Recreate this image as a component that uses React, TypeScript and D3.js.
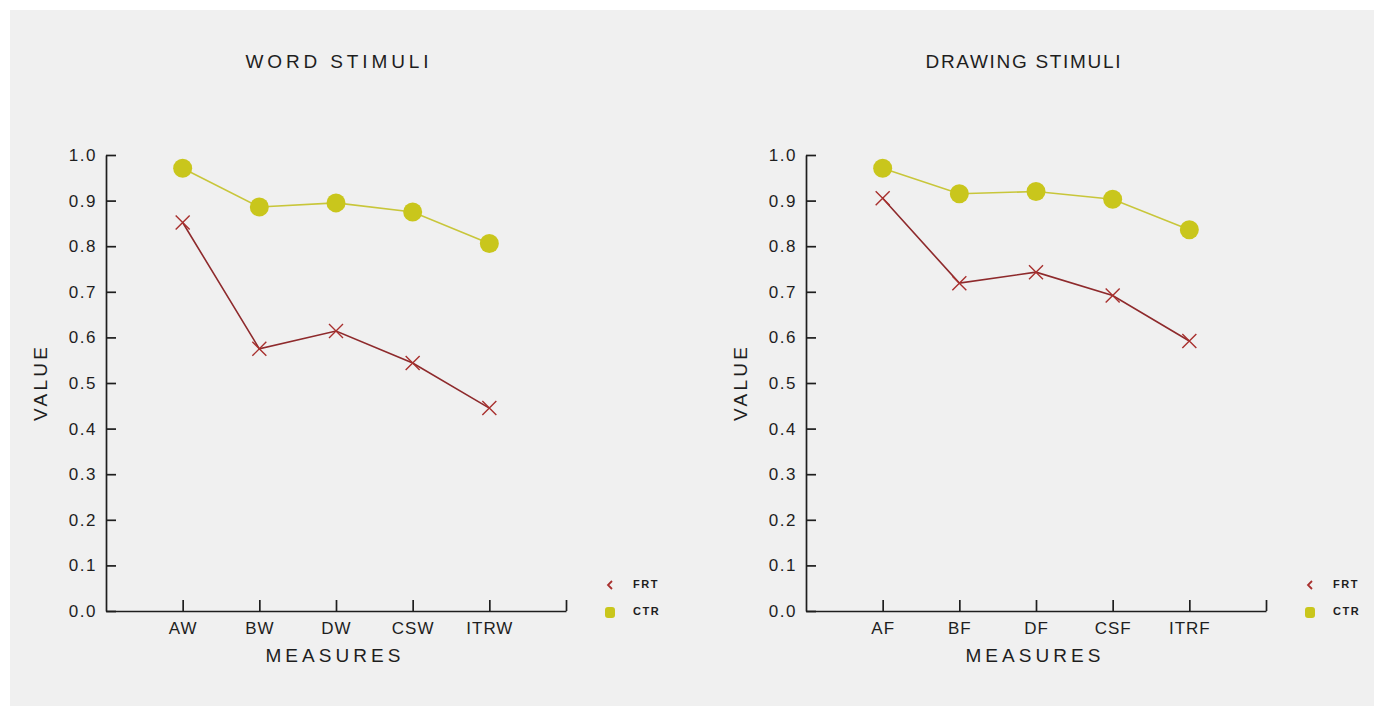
import React, { useEffect, useRef } from "react";
import * as d3 from "d3";

// values
const wordCats = ["AW", "BW", "DW", "CSW", "ITRW"];
const wordFRT = [0.852, 0.575, 0.614, 0.544, 0.445];
const wordCTR = [0.971, 0.886, 0.895, 0.875, 0.806];

const drawCats = ["AF", "BF", "DF", "CSF", "ITRF"];
const drawFRT = [0.905, 0.719, 0.743, 0.692, 0.592];
const drawCTR = [0.971, 0.915, 0.92, 0.903, 0.836];

const legendNames = ["FRT", "CTR"];

const FONT = "'Liberation Sans', Arial, sans-serif";
const INK = "#1e1e1e";
const FRT_COLOR = "#a8302e";
const FRT_LINE = "#8e2a2c";
const CTR_COLOR = "#c9c61c";
const CTR_LINE = "#c8c63a";

export default function App() {
  const svgRef = useRef<SVGSVGElement>(null);

  useEffect(() => {
    const svg = d3.select(svgRef.current);
    svg.selectAll("*").remove();

    svg.append("rect")
      .attr("x", 0).attr("y", 0).attr("width", 1381).attr("height", 706)
      .attr("fill", "#ffffff");
    svg.append("rect")
      .attr("x", 10).attr("y", 10).attr("width", 1364).attr("height", 696)
      .attr("fill", "#f0f0f0");

    const panel = (left: number, title: string, cats: string[], frt: number[], ctr: number[], titleX: number, titleLen: number) => {
      const x = d3.scaleLinear().domain([0, 6]).range([left, left + 460]);
      const y = d3.scaleLinear().domain([0, 1]).range([611, 155]);
      const g = svg.append("g");

      // title
      g.append("text")
        .attr("x", titleX).attr("y", 63)
        .attr("text-anchor", "middle").attr("dominant-baseline", "middle")
        .attr("textLength", titleLen).attr("lengthAdjust", "spacing")
        .style("font-family", FONT).style("font-size", "19px").attr("fill", INK)
        .text(title);

      // y axis
      const yAxis = g.append("g")
        .attr("transform", `translate(${left},0)`)
        .call(d3.axisLeft(y).ticks(10).tickFormat(d3.format(".1f")).tickSizeInner(-10).tickSizeOuter(0).tickPadding(9));
      yAxis.selectAll("path, line").attr("stroke", INK).attr("stroke-width", 1.7);
      yAxis.selectAll("text")
        .style("font-family", FONT).style("font-size", "17px").style("letter-spacing", "1.5px")
        .attr("fill", INK);

      // x axis
      const xAxis = g.append("g")
        .attr("transform", `translate(0,${y(0)})`)
        .call(d3.axisBottom(x).tickValues([1, 2, 3, 4, 5, 6])
          .tickFormat((d: any) => cats[+d - 1] || "")
          .tickSizeInner(-11).tickSizeOuter(0).tickPadding(11));
      xAxis.selectAll("path, line").attr("stroke", INK).attr("stroke-width", 1.7);
      xAxis.selectAll("text")
        .style("font-family", FONT).style("font-size", "17px").style("letter-spacing", "1px")
        .attr("fill", INK);

      // axis labels
      g.append("text")
        .attr("x", left + 227).attr("y", 657)
        .attr("text-anchor", "middle").attr("dominant-baseline", "middle")
        .attr("textLength", 135).attr("lengthAdjust", "spacing")
        .style("font-family", FONT).style("font-size", "19px").attr("fill", INK)
        .text("MEASURES");
      g.append("text")
        .attr("transform", `translate(${left - 64},384) rotate(-90)`)
        .attr("text-anchor", "middle").attr("dominant-baseline", "middle")
        .attr("textLength", 74).attr("lengthAdjust", "spacing")
        .style("font-family", FONT).style("font-size", "19px").attr("fill", INK)
        .text("VALUE");

      const line = d3.line<number>().x((_, i) => x(i + 1)).y(d => y(d));

      // CTR series
      g.append("path").attr("d", line(ctr)).attr("fill", "none")
        .attr("stroke", CTR_LINE).attr("stroke-width", 1.6);
      g.selectAll(".ctr").data(ctr).enter().append("circle")
        .attr("cx", (_, i) => x(i + 1)).attr("cy", d => y(d)).attr("r", 9.5)
        .attr("fill", CTR_COLOR);

      // FRT series
      g.append("path").attr("d", line(frt)).attr("fill", "none")
        .attr("stroke", FRT_LINE).attr("stroke-width", 1.6);
      const s = 7;
      g.selectAll(".frt").data(frt).enter().append("path")
        .attr("d", (d, i) => {
          const cx = x(i + 1), cy = y(d);
          return `M${cx - s},${cy - s}L${cx + s},${cy + s}M${cx - s},${cy + s}L${cx + s},${cy - s}`;
        })
        .attr("stroke", FRT_COLOR).attr("stroke-width", 1.4).attr("fill", "none");

      // legend
      const lx = left + 503;
      const leg = g.append("g");
      leg.append("path")
        .attr("d", `M${lx + 3},${581}L${lx - 1},${585}L${lx + 3},${589}`)
        .attr("stroke", FRT_COLOR).attr("stroke-width", 1.8).attr("fill", "none");
      leg.append("rect")
        .attr("x", lx - 4).attr("y", 607).attr("width", 10).attr("height", 11).attr("rx", 3)
        .attr("fill", CTR_COLOR);
      leg.selectAll(".lt").data(legendNames).enter().append("text")
        .attr("x", lx + 24).attr("y", (_, i) => 585 + i * 27)
        .attr("dominant-baseline", "middle")
        .style("font-family", FONT).style("font-size", "11px").style("font-weight", "bold")
        .style("letter-spacing", "1.5px")
        .attr("fill", INK)
        .text(d => d);
    };

    panel(106, "WORD STIMULI", wordCats, wordFRT, wordCTR, 337, 183);
    panel(806, "DRAWING STIMULI", drawCats, drawFRT, drawCTR, 1023, 195);
  }, []);

  return (
    <svg ref={svgRef} width={1381} height={706}
      style={{ position: "absolute", left: 0, top: 0, display: "block" }} />
  );
}
